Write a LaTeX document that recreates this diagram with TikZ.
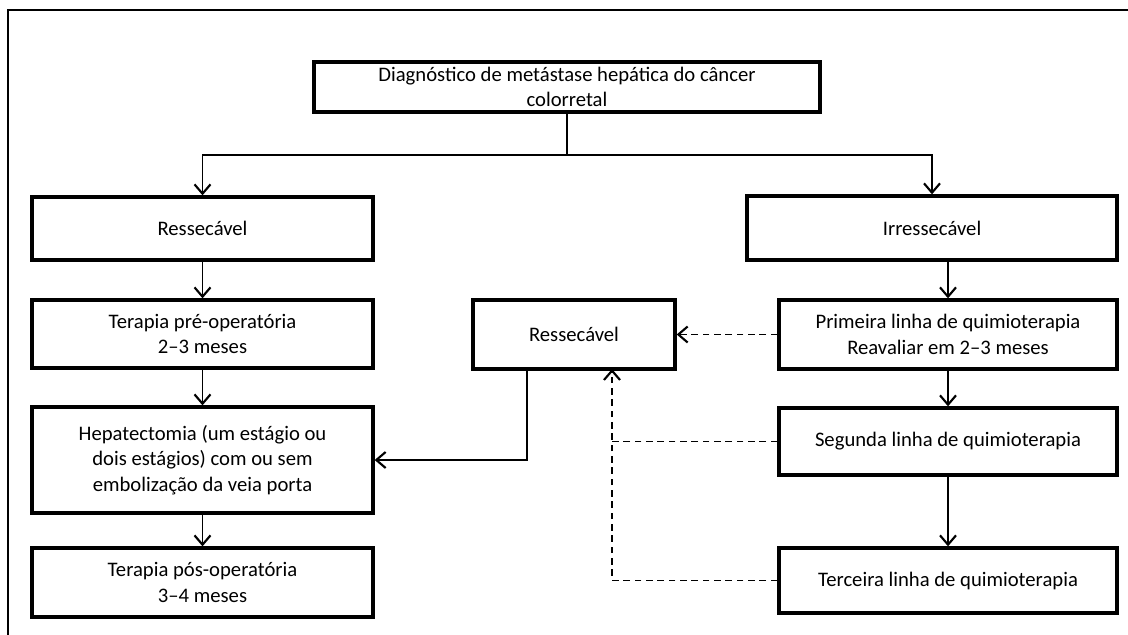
\documentclass[tikz,border=0pt]{standalone}
\usepackage{fontspec}
\setmainfont{Carlito}
\usepackage{tikz}
\usetikzlibrary{arrows.meta}

\tikzset{
  etapa/.style={draw,line width=2.5pt,align=center,inner sep=0pt,
    font=\fontsize{15.5}{19}\selectfont},
  seta/.style={line width=1.1pt,-{Straight Barb[length=7pt,width=12pt,line width=1.6pt]}},
  volta/.style={seta,dash pattern=on 5pt off 3.5pt}
}

\begin{document}
\begin{tikzpicture}[x=0.75pt,y=-0.75pt]
\useasboundingbox (0,0) rectangle (1128,635);
\draw[line width=1.2pt] (8,635) -- (8,10) -- (1128,10);

\node[etapa,minimum width=506*0.75pt,minimum height=50*0.75pt] (diag) at (567,87) {Diagnóstico de metástase hepática do câncer\\colorretal};
\node[etapa,minimum width=341*0.75pt,minimum height=63*0.75pt] (res) at (202.5,228.5) {Ressecável};
\node[etapa,minimum width=370*0.75pt,minimum height=64*0.75pt] (irres) at (932,228) {Irressecável};
\node[etapa,minimum width=341*0.75pt,minimum height=68*0.75pt] (pre) at (202.5,334) {Terapia pré-operatória\\2–3 meses};
\node[etapa,minimum width=341*0.75pt,minimum height=106*0.75pt] (hepa) at (202.5,460) {Hepatectomia (um estágio ou\\dois estágios) com ou sem\\embolização da veia porta};
\node[etapa,minimum width=341*0.75pt,minimum height=69*0.75pt] (pos) at (202.5,582.5) {Terapia pós-operatória\\3–4 meses};
\node[etapa,minimum width=202*0.75pt,minimum height=69*0.75pt] (res2) at (574,334.5) {Ressecável};
\node[etapa,minimum width=338*0.75pt,minimum height=69*0.75pt] (prim) at (948,334.5) {Primeira linha de quimioterapia\\Reavaliar em 2–3 meses};
\node[etapa,minimum width=338*0.75pt,minimum height=67*0.75pt] (seg) at (948,441.5) {Segunda linha de quimioterapia};
\node[etapa,minimum width=338*0.75pt,minimum height=65*0.75pt] (terc) at (948,580.5) {Terceira linha de quimioterapia};

\coordinate (split) at (567,155);
\coordinate (saida) at (527,369);
\coordinate (retorno) at (612,369);

\draw[line width=1.1pt] (diag.south) -- (split);
\draw[seta] (split) -| (res.north);
\draw[seta] (split) -| (irres.north);
\draw[seta] (res) -- (pre);
\draw[seta] (pre) -- (hepa);
\draw[seta] (hepa) -- (pos);
\draw[seta] (irres.south -| prim.north) -- (prim.north);
\draw[seta] (prim) -- (seg);
\draw[seta] (seg) -- (terc);
\draw[seta] (saida) |- (hepa.east);
\draw[volta] (prim.west) -- (res2.east);
\draw[volta] (terc.west) -| (retorno);
\draw[line width=1.1pt,dash pattern=on 5pt off 3.5pt] (seg.west) -- (seg.west -| retorno);
\end{tikzpicture}
\end{document}
